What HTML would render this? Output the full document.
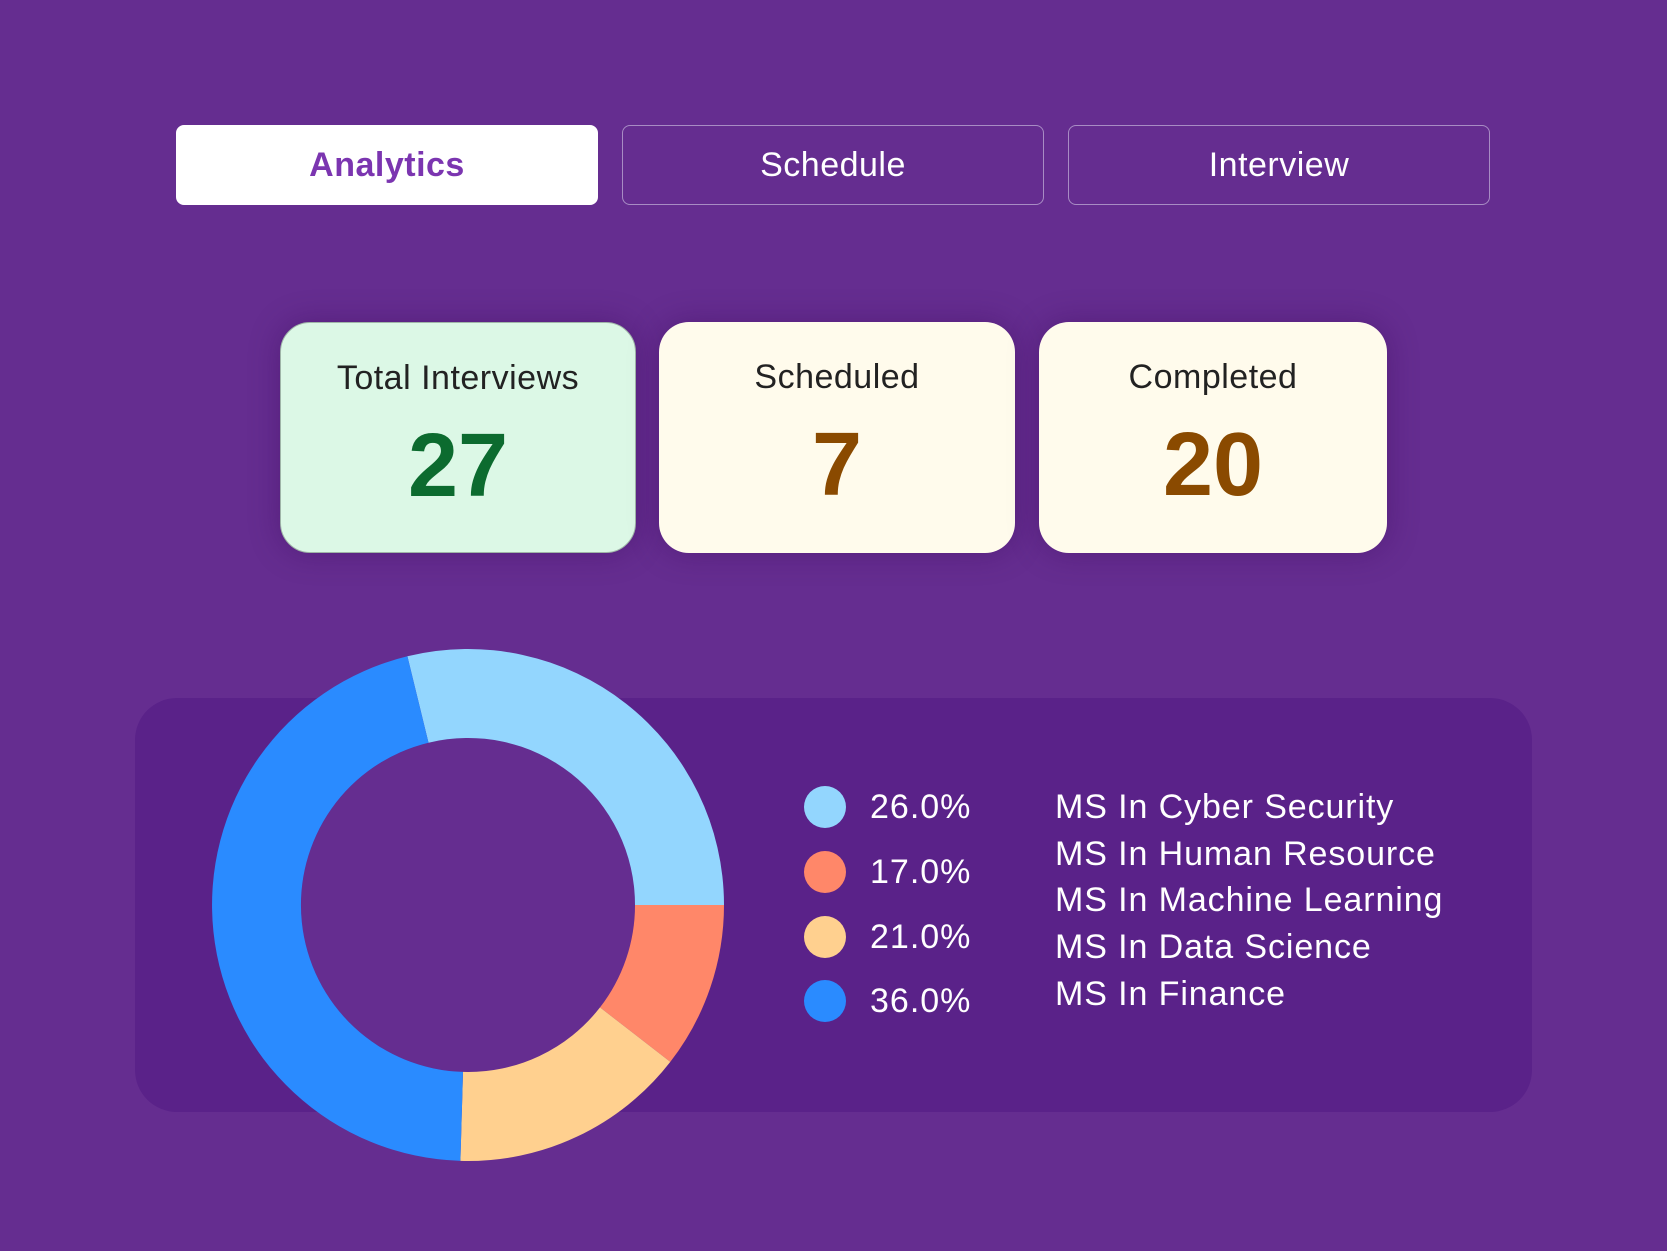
<!DOCTYPE html>
<html><head><meta charset="utf-8"><style>
*{margin:0;padding:0;box-sizing:border-box}
body{width:1667px;height:1251px;background:#652d90;position:relative;overflow:hidden;font-family:"Liberation Sans",sans-serif}
.tab{position:absolute;top:125px;height:80px;width:422px;border-radius:8px;border:1.5px solid #a88cc4;color:#fff;font-size:34px;display:flex;align-items:center;justify-content:center;letter-spacing:0.5px}
.card{position:absolute;top:322px;height:231px;border-radius:30px;text-align:center;box-shadow:0 0 30px rgba(60,10,90,0.4)}
.card .t{position:absolute;top:36px;left:0;right:0;font-size:34px;color:#222;letter-spacing:0.5px}
.card .n{position:absolute;top:92px;left:0;right:0;font-size:90px;font-weight:bold}
.panel{position:absolute;left:135px;top:698px;width:1397px;height:414px;border-radius:42px;background:#5a2289}
.dot{position:absolute;left:804px;width:42px;height:42px;border-radius:50%}
.pct{position:absolute;left:870px;font-size:34px;color:#fff;line-height:40px;letter-spacing:1px}
.lab{position:absolute;left:1055px;font-size:34px;color:#fff;line-height:40px;letter-spacing:0.9px}
</style></head><body>
<div class="tab" style="left:176px;background:#fff;border-color:#fff;color:#7b35b0;font-weight:bold">Analytics</div>
<div class="tab" style="left:622px">Schedule</div>
<div class="tab" style="left:1068px">Interview</div>
<div class="card" style="left:280px;width:356px;background:#dcf8e6;border:1px solid #9fb5a8"><div class="t">Total Interviews</div><div class="n" style="color:#0c6b2f">27</div></div>
<div class="card" style="left:659px;width:356px;background:#fffbec"><div class="t">Scheduled</div><div class="n" style="color:#8a4a00">7</div></div>
<div class="card" style="left:1039px;width:348px;background:#fffbec"><div class="t">Completed</div><div class="n" style="color:#8a4a00">20</div></div>
<div class="panel"></div>
<svg style="position:absolute;left:0;top:0" width="1667" height="1251">
<g transform="translate(468,905)">
<circle r="167" fill="#652d90"/>
<path d="M-60.6,-248.7 A256,256 0 0 1 256,0 L167,0 A167,167 0 0 0 -39.5,-162.3 Z" fill="#93d6fe"/>
<path d="M256,0 A256,256 0 0 1 202.3,156.9 L132,102.4 A167,167 0 0 0 167,0 Z" fill="#ff8769"/>
<path d="M202.3,156.9 A256,256 0 0 1 -7.6,255.9 L-5,166.9 A167,167 0 0 0 132,102.4 Z" fill="#ffd08f"/>
<path d="M-7.6,255.9 A256,256 0 0 1 -60.6,-248.7 L-39.5,-162.3 A167,167 0 0 0 -5,166.9 Z" fill="#2a8bff"/>
</g></svg>
<div class="dot" style="top:786px;background:#93d6fe"></div>
<div class="dot" style="top:851px;background:#ff8769"></div>
<div class="dot" style="top:916px;background:#ffd08f"></div>
<div class="dot" style="top:980px;background:#2a8bff"></div>
<div class="pct" style="top:787px">26.0%</div>
<div class="pct" style="top:852px">17.0%</div>
<div class="pct" style="top:917px">21.0%</div>
<div class="pct" style="top:981px">36.0%</div>
<div class="lab" style="top:787px">MS In Cyber Security</div>
<div class="lab" style="top:834px">MS In Human Resource</div>
<div class="lab" style="top:880px">MS In Machine Learning</div>
<div class="lab" style="top:927px">MS In Data Science</div>
<div class="lab" style="top:974px">MS In Finance</div>
</body></html>
